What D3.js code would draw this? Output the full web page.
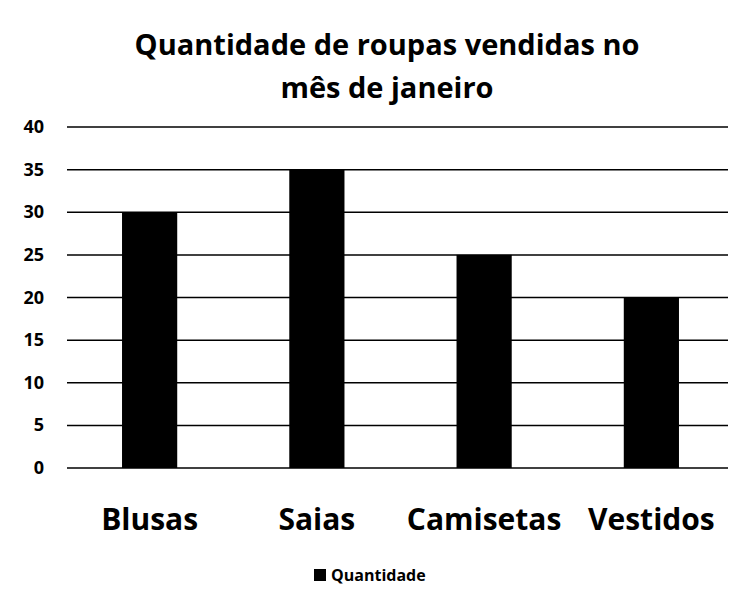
<!DOCTYPE html>
<html><head><meta charset="utf-8">
<script src="https://cdn.jsdelivr.net/npm/d3@7"></script>
<style>body{margin:0;background:#fff;font-family:"Open Sans",sans-serif;font-weight:bold}</style>
</head><body><svg id="c" width="746" height="600"></svg>
<script>
var categories = ["Blusas", "Saias", "Camisetas", "Vestidos"];
var values = [30, 35, 25, 20];
var yTicks = [0, 5, 10, 15, 20, 25, 30, 35, 40];

var svg = d3.select("#c");
var x = d3.scaleBand().domain(categories).range([66, 735]).paddingInner(0.67).paddingOuter(0.335);
var y = d3.scaleLinear().domain([0, 40]).range([468, 127]);

svg.append("text").attr("x", 387).attr("y", 55).attr("text-anchor", "middle")
    .style("font-size", "29px").text("Quantidade de roupas vendidas no");
svg.append("text").attr("x", 387).attr("y", 98).attr("text-anchor", "middle")
    .style("font-size", "29px").text("mês de janeiro");

svg.selectAll(".grid").data(yTicks).enter().append("line")
    .attr("x1", 67).attr("x2", 728)
    .attr("y1", function(d) { return y(d); }).attr("y2", function(d) { return y(d); })
    .attr("stroke", "#000").attr("stroke-width", 1.5);

svg.selectAll(".ylab").data(yTicks).enter().append("text")
    .attr("x", 44).attr("y", function(d) { return y(d) + 6; })
    .attr("text-anchor", "end").style("font-size", "18px").text(function(d) { return d; });

svg.selectAll(".bar").data(values).enter().append("rect")
    .attr("x", function(d, i) { return x(categories[i]); })
    .attr("width", x.bandwidth())
    .attr("y", function(d) { return y(d); })
    .attr("height", function(d) { return y(0) - y(d); })
    .attr("fill", "#000");

svg.selectAll(".xlab").data(categories).enter().append("text")
    .attr("x", function(d) { return x(d) + x.bandwidth() / 2; }).attr("y", 530)
    .attr("text-anchor", "middle").style("font-size", "30px").text(function(d) { return d; });

svg.append("rect").attr("x", 314).attr("y", 569).attr("width", 12).attr("height", 12).attr("fill", "#000");
svg.append("text").attr("x", 331).attr("y", 581).style("font-size", "16px").text("Quantidade");
</script></body></html>
